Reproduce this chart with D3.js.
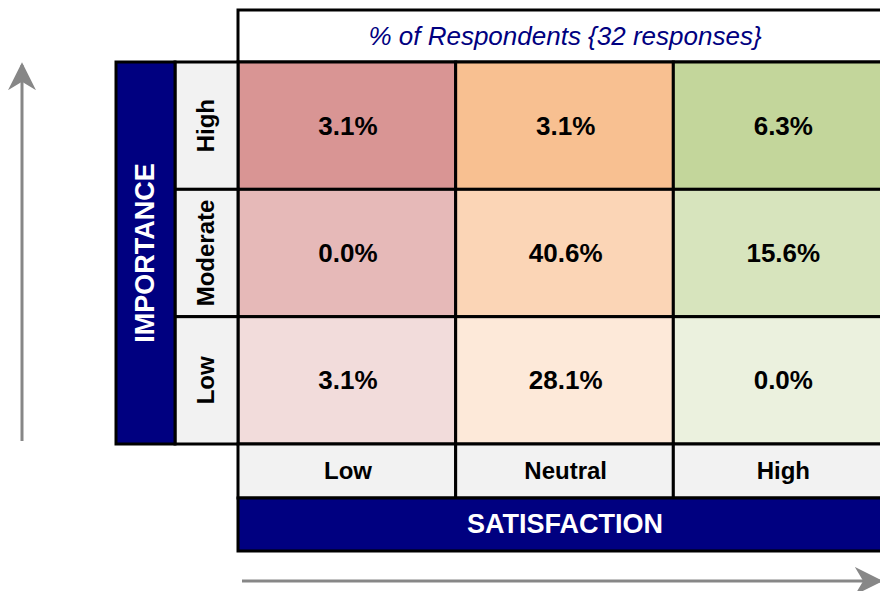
<!DOCTYPE html>
<html>
<head>
<meta charset="utf-8">
<script src="https://cdn.jsdelivr.net/npm/d3@7"></script>
<style>
  body { margin: 0; background: #fff; }
  svg { font-family: "Liberation Sans", Arial, sans-serif; }
</style>
</head>
<body>
<svg width="880" height="591"></svg>
<script>
// **** Data ****
var satisfaction = ["Low", "Neutral", "High"];
var importance = ["High", "Moderate", "Low"];
// values[importance][satisfaction], percent of respondents
var values = [
    [3.1, 3.1, 6.3],
    [0.0, 40.6, 15.6],
    [3.1, 28.1, 0.0]
];
var cellColors = [
    ["#D99594", "#F8C091", "#C3D69B"],
    ["#E6B9B8", "#FBD5B6", "#D7E4BD"],
    ["#F2DCDB", "#FDE9D9", "#EBF1DE"]
];
var title = "% of Respondents {32 responses}";

// **** Scales ****
var xScale = d3.scaleBand().domain(satisfaction).range([238, 891]);
var yScale = d3.scaleBand().domain(importance).range([62, 444]);

var svg = d3.select("svg");
var navy = "#000080";
var grey = "#F2F2F2";

var cells = [];
importance.forEach((imp, i) => {
    satisfaction.forEach((sat, j) => {
        cells.push({ imp: imp, sat: sat, value: values[i][j], color: cellColors[i][j] });
    });
});

// title box
svg.append("rect")
    .attr("x", xScale.range()[0]).attr("y", 10)
    .attr("width", xScale.range()[1] - xScale.range()[0]).attr("height", 52)
    .attr("fill", "#fff").attr("stroke", "#000").attr("stroke-width", 3);
svg.append("text")
    .attr("x", 565).attr("y", 36).attr("dy", "0.35em")
    .attr("text-anchor", "middle")
    .style("font-size", "26px").style("font-style", "italic")
    .attr("fill", navy)
    .text(title);

// heatmap cells
var cell = svg.selectAll(".cell").data(cells).enter().append("g").attr("class", "cell");
cell.append("rect")
    .attr("x", d => xScale(d.sat)).attr("y", d => yScale(d.imp))
    .attr("width", xScale.bandwidth()).attr("height", yScale.bandwidth())
    .attr("fill", d => d.color).attr("stroke", "#000").attr("stroke-width", 3);
cell.append("text")
    .attr("x", d => xScale(d.sat) + 110).attr("y", d => yScale(d.imp) + yScale.bandwidth() / 2)
    .attr("dy", "0.35em").attr("text-anchor", "middle")
    .style("font-size", "26px").style("font-weight", "bold")
    .text(d => d.value.toFixed(1) + "%");

// row labels (importance)
var rowLab = svg.selectAll(".rowlab").data(importance).enter().append("g").attr("class", "rowlab");
rowLab.append("rect")
    .attr("x", 175).attr("y", d => yScale(d))
    .attr("width", 63).attr("height", yScale.bandwidth())
    .attr("fill", grey).attr("stroke", "#000").attr("stroke-width", 3);
rowLab.append("text")
    .attr("transform", d => `translate(206,${yScale(d) + yScale.bandwidth() / 2}) rotate(-90)`)
    .attr("dy", "0.35em").attr("text-anchor", "middle")
    .style("font-size", "24px").style("font-weight", "bold")
    .text(d => d);

// importance bar
svg.append("rect")
    .attr("x", 116).attr("y", 62).attr("width", 59).attr("height", 382)
    .attr("fill", navy).attr("stroke", "#000").attr("stroke-width", 3);
svg.append("text")
    .attr("transform", "translate(145,253) rotate(-90)")
    .attr("dy", "0.35em").attr("text-anchor", "middle")
    .style("font-size", "27px").style("font-weight", "bold")
    .attr("fill", "#fff")
    .text("IMPORTANCE");

// column labels (satisfaction)
var colLab = svg.selectAll(".collab").data(satisfaction).enter().append("g").attr("class", "collab");
colLab.append("rect")
    .attr("x", d => xScale(d)).attr("y", 444)
    .attr("width", xScale.bandwidth()).attr("height", 54)
    .attr("fill", grey).attr("stroke", "#000").attr("stroke-width", 3);
colLab.append("text")
    .attr("x", d => xScale(d) + 110).attr("y", 471)
    .attr("dy", "0.35em").attr("text-anchor", "middle")
    .style("font-size", "24px").style("font-weight", "bold")
    .text(d => d);

// satisfaction bar
svg.append("rect")
    .attr("x", 238).attr("y", 498).attr("width", 653).attr("height", 53)
    .attr("fill", navy).attr("stroke", "#000").attr("stroke-width", 3);
svg.append("text")
    .attr("x", 565).attr("y", 524).attr("dy", "0.35em").attr("text-anchor", "middle")
    .style("font-size", "27px").style("font-weight", "bold")
    .attr("fill", "#fff")
    .text("SATISFACTION");

// arrows
svg.append("defs").append("marker")
    .attr("id", "arrow").attr("viewBox", "0 0 10 10")
    .attr("refX", 9).attr("refY", 5)
    .attr("markerWidth", 28).attr("markerHeight", 28)
    .attr("markerUnits", "userSpaceOnUse")
    .attr("orient", "auto")
    .append("path").attr("d", "M0,0 L10,5 L0,10 L3,5 Z").attr("fill", "#878787");

svg.append("line")
    .attr("x1", 22).attr("y1", 441).attr("x2", 22).attr("y2", 65)
    .attr("stroke", "#878787").attr("stroke-width", 3)
    .attr("marker-end", "url(#arrow)");
svg.append("line")
    .attr("x1", 242).attr("y1", 581).attr("x2", 880).attr("y2", 581)
    .attr("stroke", "#878787").attr("stroke-width", 3)
    .attr("marker-end", "url(#arrow)");
</script>
</body>
</html>
